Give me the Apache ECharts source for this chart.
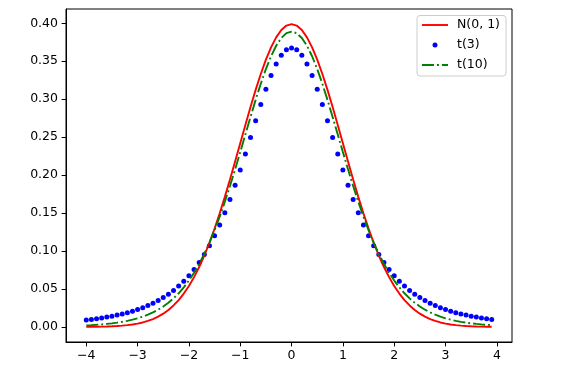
<!DOCTYPE html>
<html><head><meta charset="utf-8">
<script src="https://cdn.jsdelivr.net/npm/echarts@6/dist/echarts.min.js"></script>
<style>html,body{margin:0;padding:0;background:#fff}#c{width:565px;height:371px}</style>
</head><body><div id="c"></div>
<script>
var xValues = [-4.0,-3.9,-3.8,-3.7,-3.6,-3.5,-3.4,-3.3,-3.2,-3.1,-3.0,-2.9,-2.8,-2.7,-2.6,-2.5,-2.4,-2.3,-2.2,-2.1,-2.0,-1.9,-1.8,-1.7,-1.6,-1.5,-1.4,-1.3,-1.2,-1.1,-1.0,-0.9,-0.8,-0.7,-0.6,-0.5,-0.4,-0.3,-0.2,-0.1,0.0,0.1,0.2,0.3,0.4,0.5,0.6,0.7,0.8,0.9,1.0,1.1,1.2,1.3,1.4,1.5,1.6,1.7,1.8,1.9,2.0,2.1,2.2,2.3,2.4,2.5,2.6,2.7,2.8,2.9,3.0,3.1,3.2,3.3,3.4,3.5,3.6,3.7,3.8,3.9];
var normalValues = [0.00013,0.00020,0.00029,0.00042,0.00061,0.00087,0.00123,0.00172,0.00238,0.00327,0.00443,0.00595,0.00792,0.01042,0.01358,0.01753,0.02239,0.02833,0.03547,0.04398,0.05399,0.06562,0.07895,0.09405,0.11092,0.12952,0.14973,0.17137,0.19419,0.21785,0.24197,0.26609,0.28969,0.31225,0.33322,0.35207,0.36827,0.38139,0.39104,0.39695,
0.39894,0.39695,0.39104,0.38139,0.36827,0.35207,0.33322,0.31225,0.28969,0.26609,0.24197,0.21785,0.19419,0.17137,0.14973,0.12952,0.11092,0.09405,0.07895,0.06562,0.05399,0.04398,0.03547,0.02833,0.02239,0.01753,0.01358,0.01042,0.00792,0.00595,0.00443,0.00327,0.00238,0.00172,0.00123,0.00087,0.00061,0.00042,0.00029,0.00020];
var t3Values = [0.00916,0.00998,0.01088,0.01188,0.01299,0.01422,0.01560,0.01715,0.01887,0.02080,0.02297,0.02541,0.02815,0.03124,0.03473,0.03866,0.04311,0.04813,0.05382,0.06025,0.06751,0.07571,0.08495,0.09535,0.10701,0.12002,0.13446,0.15039,0.16780,0.18664,0.20675,0.22788,0.24966,0.27159,0.29301,0.31318,0.33127,0.34645,0.35794,0.36511,
0.36755,0.36511,0.35794,0.34645,0.33127,0.31318,0.29301,0.27159,0.24966,0.22788,0.20675,0.18664,0.16780,0.15039,0.13446,0.12002,0.10701,0.09535,0.08495,0.07571,0.06751,0.06025,0.05382,0.04813,0.04311,0.03866,0.03473,0.03124,0.02815,0.02541,0.02297,0.02080,0.01887,0.01715,0.01560,0.01422,0.01299,0.01188,0.01088,0.00998];
var t10Values = [0.00203,0.00241,0.00285,0.00339,0.00403,0.00478,0.00569,0.00677,0.00805,0.00958,0.01140,0.01356,0.01612,0.01915,0.02273,0.02694,0.03188,0.03766,0.04438,0.05216,0.06115,0.07142,0.08312,0.09632,0.11108,0.12745,0.14538,0.16486,0.18567,0.20761,0.23036,0.25353,0.27662,0.29910,0.32033,0.33970,0.35658,0.37040,0.38066,0.38698,
0.38911,0.38698,0.38066,0.37040,0.35658,0.33970,0.32033,0.29910,0.27662,0.25353,0.23036,0.20761,0.18567,0.16486,0.14538,0.12745,0.11108,0.09632,0.08312,0.07142,0.06115,0.05216,0.04438,0.03766,0.03188,0.02694,0.02273,0.01915,0.01612,0.01356,0.01140,0.00958,0.00805,0.00677,0.00569,0.00478,0.00403,0.00339,0.00285,0.00241];
var seriesNames = ['N(0, 1)', 't(3)', 't(10)'];
var xTicks = [-4,-3,-2,-1,0,1,2,3,4];
var yTicks = [0,0.05,0.10,0.15,0.20,0.25,0.30,0.35,0.40];

function pairs(ys){ return xValues.map(function(x,i){return [x, ys[i]];}); }
var FONT = 'DejaVu Sans';
var chart = echarts.init(document.getElementById('c'), null, {renderer:'canvas'});
var lx = 422, ly = 25, lg = 20;
chart.setOption({
  animation:false,
  backgroundColor:'#fff',
  grid:{left:66,right:53,top:9,bottom:29,show:true,borderColor:'#000',borderWidth:1,backgroundColor:'transparent'},
  xAxis:{type:'value',min:-4.395,max:4.295,
    axisLine:{show:true,onZero:false,lineStyle:{color:'#000',width:1}},
    axisTick:{show:true,customValues:xTicks,length:4.4,lineStyle:{color:'#000'}},
    axisLabel:{customValues:xTicks,margin:7,color:'#000',fontFamily:FONT,fontSize:12.5,
      formatter:function(v){return (v<0?'\u2212':'')+Math.abs(v);}},
    splitLine:{show:false}},
  yAxis:{type:'value',min:-0.0198,max:0.4188,
    axisLine:{show:true,onZero:false,lineStyle:{color:'#000',width:1}},
    axisTick:{show:true,customValues:yTicks,length:4.4,lineStyle:{color:'#000'}},
    axisLabel:{customValues:yTicks,margin:8,color:'#000',fontFamily:FONT,fontSize:12.5,
      formatter:function(v){return v.toFixed(2);}},
    splitLine:{show:false}},
  series:[
    {name:seriesNames[0],type:'line',data:pairs(normalValues),showSymbol:false,symbol:'none',
      lineStyle:{color:'#ff0000',width:1.9},itemStyle:{color:'#ff0000'}},
    {name:seriesNames[1],type:'scatter',data:pairs(t3Values),symbol:'circle',symbolSize:5,
      itemStyle:{color:'#0000ff',opacity:1}},
    {name:seriesNames[2],type:'line',data:pairs(t10Values),showSymbol:false,symbol:'none',
      lineStyle:{color:'#008000',width:1.9,type:[12,3,1.9,3]},itemStyle:{color:'#008000'}}
  ],
  graphic:[
    {type:'rect',shape:{x:417,y:15.5,width:89,height:60.5,r:3},style:{fill:'rgba(255,255,255,0.8)',stroke:'#cccccc',lineWidth:1},z:100},
    {type:'line',shape:{x1:lx,y1:ly,x2:lx+26,y2:ly},style:{stroke:'#ff0000',lineWidth:1.9},z:101},
    {type:'circle',shape:{cx:lx+13,cy:ly+lg,r:2.5},style:{fill:'#0000ff'},z:101},
    {type:'line',shape:{x1:lx,y1:ly+2*lg,x2:lx+26,y2:ly+2*lg},style:{stroke:'#008000',lineWidth:1.9,lineDash:[12,3,1.9,3]},z:101},
    {type:'text',x:457,y:ly,style:{text:seriesNames[0],fill:'#000',font:'12.5px "DejaVu Sans"',textVerticalAlign:'middle',verticalAlign:'middle'},z:101},
    {type:'text',x:457,y:ly+lg,style:{text:seriesNames[1],fill:'#000',font:'12.5px "DejaVu Sans"',textVerticalAlign:'middle',verticalAlign:'middle'},z:101},
    {type:'text',x:457,y:ly+2*lg,style:{text:seriesNames[2],fill:'#000',font:'12.5px "DejaVu Sans"',textVerticalAlign:'middle',verticalAlign:'middle'},z:101}
  ]
});
</script></body></html>
